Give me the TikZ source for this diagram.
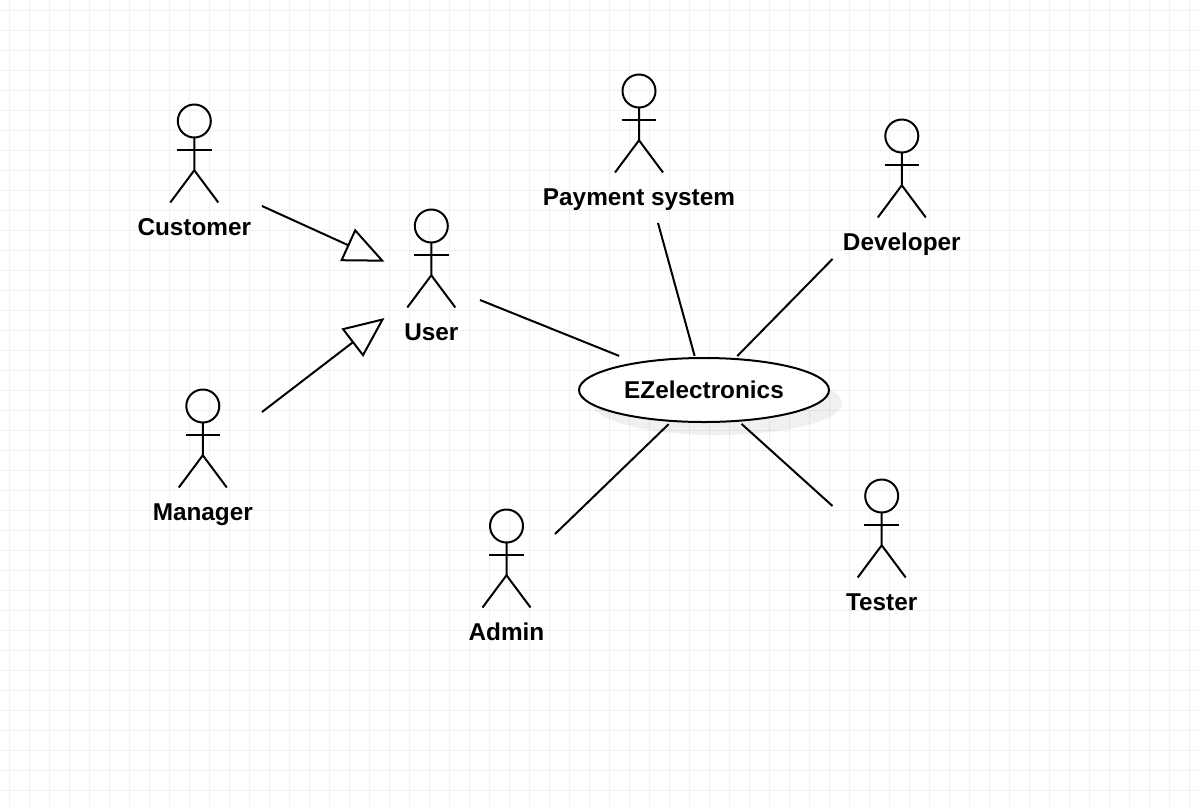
\documentclass[tikz,border=0pt]{standalone}
\usepackage{fontspec}
\setmainfont{Liberation Sans}
\usepackage{xcolor}
\usetikzlibrary{arrows.meta,shapes.geometric}
\definecolor{gridgray}{HTML}{F0F0F0}

\begin{document}
\begin{tikzpicture}[
  x=0.75pt, y=-0.75pt,
  gridline/.style={draw=gridgray, line width=0.75pt},
  head/.style={draw, circle, line width=1.5pt, minimum size=24.75pt, inner sep=0pt, outer sep=0pt},
  limb/.style={draw, line width=1.5pt},
  actorlabel/.style={font=\bfseries\fontsize{18.25}{20}\selectfont, inner sep=0pt, anchor=base},
  usecase/.style={draw, ellipse, fill=white, line width=1.5pt, minimum width=187.5pt, minimum height=48pt, inner sep=0pt, outer sep=0pt, font=\bfseries\fontsize{18.25}{20}\selectfont},
  caseshadow/.style={ellipse, fill=black, opacity=0.06, minimum width=187.5pt, minimum height=48pt, inner sep=0pt, outer sep=0pt},
  assoc/.style={draw, line width=1.5pt},
  general/.style={draw, line width=1.5pt, -{Triangle[open, length=30.5pt, width=26.5pt, line width=1.5pt]}}
]
\useasboundingbox (0,0) rectangle (1198,807);
\fill [white] (0,0) rectangle (1198,807);

\foreach \x in {0,...,59} {
  \draw [gridline] (9.5+20*\x,0) -- (9.5+20*\x,807);
}
\foreach \y in {0,...,39} {
  \draw [gridline] (0,10+20*\y) -- (1198,10+20*\y);
}

\foreach \name/\x/\y/\txt in {customer/194.3/121/Customer, user/431.3/226/User, manager/202.8/406/Manager, payment/639/91/Payment system, developer/901.8/136/Developer, admin/506.5/526/Admin, tester/881.7/496/Tester} {
  \node [head] (\name) at (\x,\y) {};
  \draw [limb] (\name.south) -- (\x,\y+49.3) -- (\x-24,\y+81.5);
  \draw [limb] (\x,\y+49.3) -- (\x+24,\y+81.5);
  \draw [limb] (\x-17.3,\y+28.6) -- (\x+17.3,\y+28.6);
  \node [actorlabel] (\name-label) at (\x,\y+114) {\txt};
}

\node [caseshadow] (ez-shadow) at (717,403) {};
\node [usecase] (ez) at (704,390) {EZelectronics};

\coordinate (customer-end) at (262,206);
\coordinate (manager-end) at (262,412);
\coordinate (user-tip-a) at (384.5,261.7);
\coordinate (user-tip-b) at (384.5,318);
\coordinate (user-end) at (480,300);
\coordinate (payment-end) at (658,223);
\coordinate (developer-end) at (832.5,259);
\coordinate (admin-end) at (555,534);
\coordinate (tester-end) at (832.5,506);

\draw [general] (customer-end) -- (user-tip-a);
\draw [general] (manager-end) -- (user-tip-b);

\draw [assoc, shorten >=14.25pt] (user-end) -- (ez);
\draw [assoc, shorten >=1.65pt] (payment-end) -- (ez);
\draw [assoc, shorten >=3pt] (developer-end) -- (ez);
\draw [assoc, shorten >=3.5pt] (admin-end) -- (ez);
\draw [assoc, shorten >=3.5pt] (tester-end) -- (ez);
\end{tikzpicture}
\end{document}
